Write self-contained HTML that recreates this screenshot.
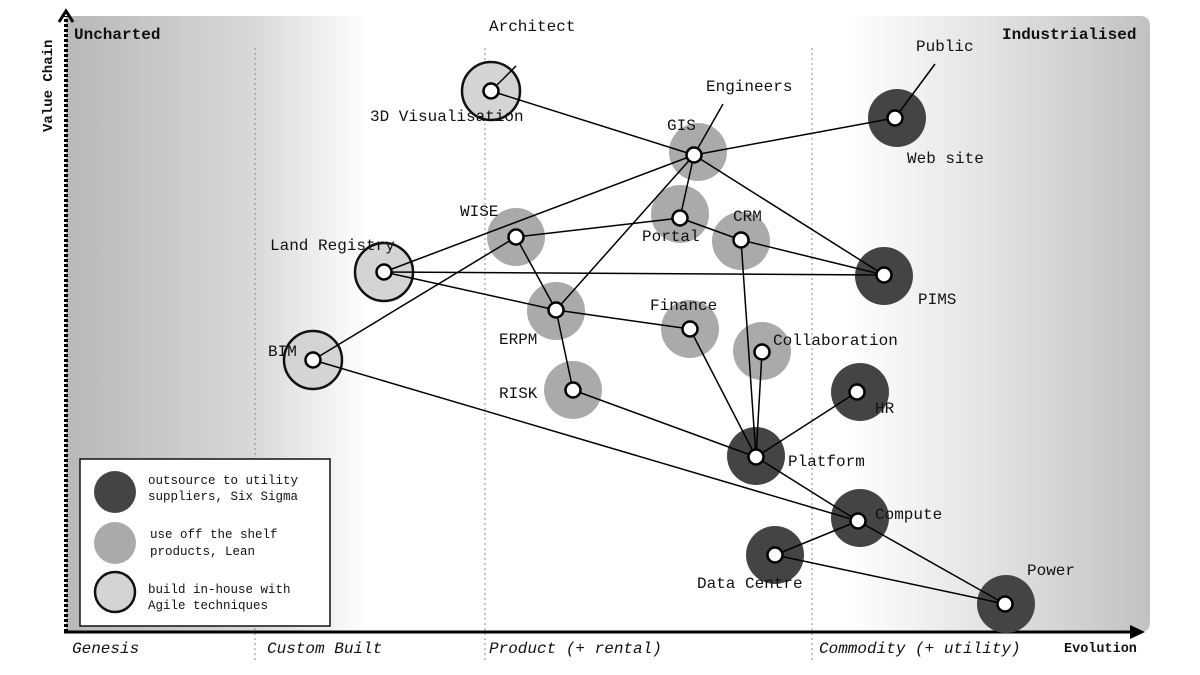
<!DOCTYPE html>
<html><head><meta charset="utf-8"><style>
html,body{margin:0;padding:0;background:#fff;width:1200px;height:675px;overflow:hidden}
svg{display:block}
text{font-family:"Liberation Mono",monospace;font-size:16px;fill:#111}
.b{font-weight:bold;font-size:16px}
.i{font-style:italic;font-size:16px}
.l{font-size:12.5px}
</style></head><body>
<svg width="1200" height="675" viewBox="0 0 1200 675">
<defs>
<linearGradient id="g" x1="66" x2="1150" y1="0" y2="0" gradientUnits="userSpaceOnUse">
<stop offset="0" stop-color="#b8b8b8"/>
<stop offset="0.17" stop-color="#d8d8d8"/>
<stop offset="0.28" stop-color="#ffffff"/>
<stop offset="0.72" stop-color="#ffffff"/>
<stop offset="1" stop-color="#c2c2c2"/>
</linearGradient>
</defs>
<path d="M66 16 H1140 Q1150 16 1150 26 V622 Q1150 632 1140 632 H66 Z" fill="url(#g)"/>
<g stroke="#888" stroke-width="1" stroke-dasharray="2,3">
<line x1="255" y1="48" x2="255" y2="662"/>
<line x1="485" y1="48" x2="485" y2="662"/>
<line x1="812" y1="48" x2="812" y2="662"/>
</g>
<line x1="66" y1="632" x2="66" y2="16" stroke="#000" stroke-width="4" stroke-dasharray="3,2"/>
<path d="M59 22 L66 11 L73 22" fill="none" stroke="#000" stroke-width="3"/>
<line x1="64" y1="632" x2="1136" y2="632" stroke="#000" stroke-width="3"/>
<path d="M1130 625 L1145 632 L1130 639 Z" fill="#000"/>
<text class="b" x="74" y="39">Uncharted</text>
<text class="b" x="1002" y="39">Industrialised</text>
<text class="b" x="1064" y="652" style="font-size:13.5px">Evolution</text>
<text class="b" transform="translate(52,132) rotate(-90)" style="font-size:14px">Value Chain</text>
<text class="i" x="72" y="653">Genesis</text>
<text class="i" x="267" y="653">Custom Built</text>
<text class="i" x="489" y="653">Product (+ rental)</text>
<text class="i" x="819" y="653">Commodity (+ utility)</text>

<g>
<circle cx="491" cy="91" r="29" fill="#d4d4d4" stroke="#111" stroke-width="2.5"/>
<circle cx="384" cy="272" r="29" fill="#d4d4d4" stroke="#111" stroke-width="2.5"/>
<circle cx="313" cy="360" r="29" fill="#d4d4d4" stroke="#111" stroke-width="2.5"/>
<g fill="#aaa">
<circle cx="698" cy="152" r="29"/>
<circle cx="516" cy="237" r="29"/>
<circle cx="680" cy="214" r="29"/>
<circle cx="741" cy="241" r="29"/>
<circle cx="556" cy="311" r="29"/>
<circle cx="690" cy="329" r="29"/>
<circle cx="762" cy="351" r="29"/>
<circle cx="573" cy="390" r="29"/>
</g>
<g fill="#444">
<circle cx="897" cy="118" r="29"/>
<circle cx="884" cy="276" r="29"/>
<circle cx="860" cy="392" r="29"/>
<circle cx="756" cy="456" r="29"/>
<circle cx="860" cy="518" r="29"/>
<circle cx="775" cy="555" r="29"/>
<circle cx="1006" cy="604" r="29"/>
</g>
</g>
<g stroke="#000" stroke-width="1.5">
<line x1="491" y1="91" x2="694" y2="155"/>
<line x1="694" y1="155" x2="895" y2="118"/>
<line x1="694" y1="155" x2="384" y2="272"/>
<line x1="694" y1="155" x2="680" y2="218"/>
<line x1="694" y1="155" x2="556" y2="310"/>
<line x1="694" y1="155" x2="884" y2="275"/>
<line x1="516" y1="237" x2="680" y2="218"/>
<line x1="680" y1="218" x2="741" y2="240"/>
<line x1="516" y1="237" x2="556" y2="310"/>
<line x1="516" y1="237" x2="313" y2="360"/>
<line x1="741" y1="240" x2="884" y2="275"/>
<line x1="741" y1="240" x2="756" y2="457"/>
<line x1="384" y1="272" x2="884" y2="275"/>
<line x1="384" y1="272" x2="556" y2="310"/>
<line x1="556" y1="310" x2="690" y2="329"/>
<line x1="556" y1="310" x2="573" y2="390"/>
<line x1="573" y1="390" x2="756" y2="457"/>
<line x1="690" y1="329" x2="756" y2="457"/>
<line x1="762" y1="352" x2="756" y2="457"/>
<line x1="857" y1="392" x2="756" y2="457"/>
<line x1="756" y1="457" x2="858" y2="521"/>
<line x1="313" y1="360" x2="858" y2="521"/>
<line x1="858" y1="521" x2="775" y2="555"/>
<line x1="858" y1="521" x2="1005" y2="604"/>
<line x1="775" y1="555" x2="1005" y2="604"/>
<line x1="491" y1="91" x2="516" y2="66"/>
<line x1="694" y1="155" x2="723" y2="104"/>
<line x1="895" y1="118" x2="935" y2="64"/>
</g>
<g fill="#fff" stroke="#000" stroke-width="2.5">
<circle cx="491" cy="91" r="7.5"/>
<circle cx="694" cy="155" r="7.5"/>
<circle cx="895" cy="118" r="7.5"/>
<circle cx="516" cy="237" r="7.5"/>
<circle cx="680" cy="218" r="7.5"/>
<circle cx="741" cy="240" r="7.5"/>
<circle cx="384" cy="272" r="7.5"/>
<circle cx="884" cy="275" r="7.5"/>
<circle cx="556" cy="310" r="7.5"/>
<circle cx="690" cy="329" r="7.5"/>
<circle cx="762" cy="352" r="7.5"/>
<circle cx="313" cy="360" r="7.5"/>
<circle cx="857" cy="392" r="7.5"/>
<circle cx="573" cy="390" r="7.5"/>
<circle cx="756" cy="457" r="7.5"/>
<circle cx="858" cy="521" r="7.5"/>
<circle cx="775" cy="555" r="7.5"/>
<circle cx="1005" cy="604" r="7.5"/>
</g>
<text x="489" y="31">Architect</text>
<text x="370" y="121">3D Visualisation</text>
<text x="706" y="91">Engineers</text>
<text x="667" y="130">GIS</text>
<text x="916" y="51">Public</text>
<text x="907" y="163">Web site</text>
<text x="460" y="216">WISE</text>
<text x="642" y="241">Portal</text>
<text x="733" y="221">CRM</text>
<text x="270" y="250">Land Registry</text>
<text x="918" y="304">PIMS</text>
<text x="499" y="344">ERPM</text>
<text x="650" y="310">Finance</text>
<text x="773" y="345">Collaboration</text>
<text x="268" y="356">BIM</text>
<text x="875" y="413">HR</text>
<text x="499" y="398">RISK</text>
<text x="788" y="466">Platform</text>
<text x="875" y="519">Compute</text>
<text x="697" y="588">Data Centre</text>
<text x="1027" y="575">Power</text>
<rect x="80" y="459" width="250" height="167" fill="#fff" stroke="#111" stroke-width="1.5"/>
<circle cx="115" cy="492" r="21" fill="#444"/>
<circle cx="115" cy="543" r="21" fill="#aaa"/>
<circle cx="115" cy="592" r="20" fill="#d4d4d4" stroke="#111" stroke-width="2.5"/>
<text class="l" x="148" y="484">outsource to utility</text>
<text class="l" x="148" y="500">suppliers, Six Sigma</text>
<text class="l" x="150" y="538">use off the shelf</text>
<text class="l" x="150" y="555">products, Lean</text>
<text class="l" x="148" y="593">build in-house with</text>
<text class="l" x="148" y="609">Agile techniques</text>
</svg>
</body></html>
